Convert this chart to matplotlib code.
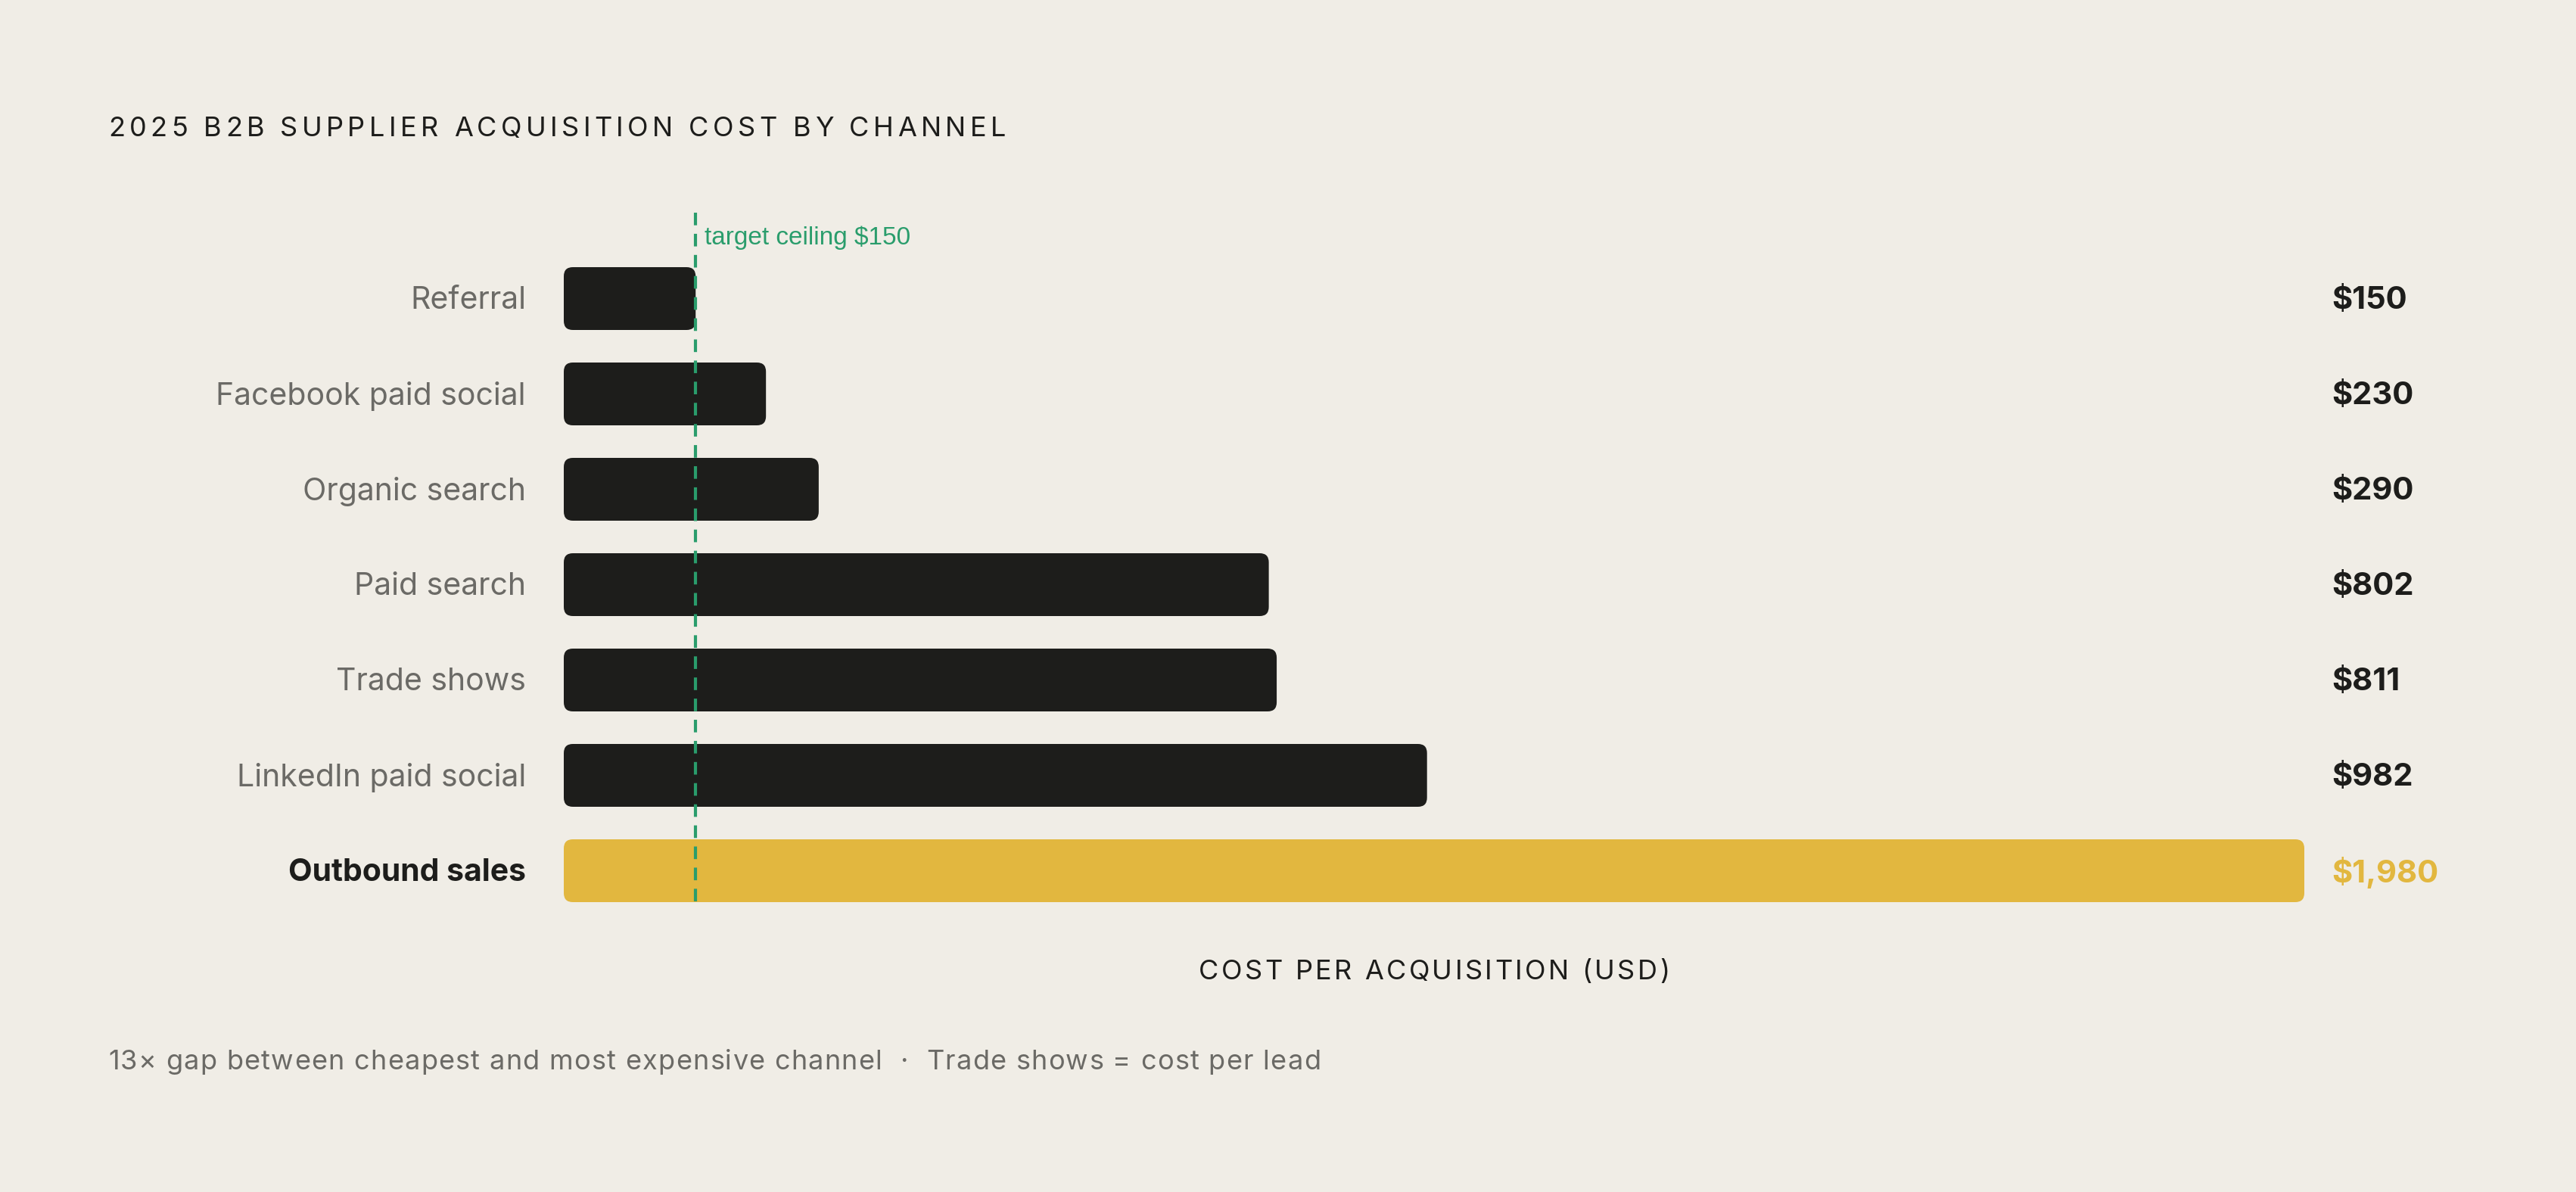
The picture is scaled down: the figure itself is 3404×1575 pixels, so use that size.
import matplotlib
matplotlib.use("Agg")
import matplotlib.pyplot as plt
from matplotlib.patches import FancyBboxPatch
from matplotlib.font_manager import FontProperties

# ---- data ----
channels = ["Referral", "Facebook paid social", "Organic search", "Paid search",
            "Trade shows", "LinkedIn paid social", "Outbound sales"]
costs = [150, 230, 290, 802, 811, 982, 1980]
value_labels = ["$150", "$230", "$290", "$802", "$811", "$982", "$1,980"]
highlight = "Outbound sales"
target = 150
target_label = "target ceiling $150"
title = "2025 B2B SUPPLIER ACQUISITION COST BY CHANNEL"
xlabel = "COST PER ACQUISITION (USD)"
footnote = "13\u00d7 gap between cheapest and most expensive channel  \u00b7  Trade shows = cost per lead"

# ---- style ----
BG = "#f0ede6"
DARK = "#1d1d1b"
GOLD = "#e2b73f"
GREEN = "#2a9d6c"
GREY = "#6b6a66"
FONT = "Inter"

W, H, DPI = 3405, 1575, 100
fig = plt.figure(figsize=(W / DPI, H / DPI), dpi=DPI, facecolor=BG)

# axes placement in pixel space
x0_px, x1_px = 745, 3045
row0_px, spacing_px = 394.5, 126
ytop_lim, ybot_lim = -1.0, 6.5
ax_top_px = row0_px + ytop_lim * spacing_px
ax_bot_px = row0_px + ybot_lim * spacing_px
ax = fig.add_axes([x0_px / W, 1 - ax_bot_px / H, (x1_px - x0_px) / W,
                   (ax_bot_px - ax_top_px) / H])
ax.set_facecolor(BG)
ax.set_xlim(0, max(costs))
ax.set_ylim(ybot_lim, ytop_lim)
ax.axis("off")

bar_h = 83 / spacing_px
ypos = list(range(len(channels)))
bars = ax.barh(ypos, costs, height=bar_h, color=DARK)

px_per_x = (x1_px - x0_px) / max(costs)
r_px = 12
for b, ch in zip(bars, channels):
    x, y, w, h = b.get_x(), b.get_y(), b.get_width(), b.get_height()
    b.set_visible(False)
    fc = GOLD if ch == highlight else DARK
    rx = r_px / px_per_x
    ry = r_px / spacing_px
    p = FancyBboxPatch((x, y), w, h,
                       boxstyle=f"round,pad=0,rounding_size={rx}",
                       mutation_aspect=ry / rx,
                       facecolor=fc, edgecolor="none", zorder=2)
    ax.add_patch(p)

# target line
line_top = (281 - row0_px) / spacing_px
line_bot = len(channels) - 1 + bar_h / 2
ax.plot([target, target], [line_top, line_bot], color=GREEN, lw=3.0,
        dashes=(4.0, 2.7), zorder=3, clip_on=False, solid_capstyle="butt",
        dash_capstyle="butt")
ax.text(target + 10, (314 - row0_px) / spacing_px, target_label, color=GREEN,
        fontsize=24, family="Liberation Sans", va="center", ha="left")

# category labels and values
dy = 3 / spacing_px
for i, (ch, v, lab) in enumerate(zip(channels, costs, value_labels)):
    hl = ch == highlight
    ax.text(-(745 - 695) / px_per_x, i + dy, ch, ha="right", va="center",
            fontsize=29.5, family=FONT, color=DARK if hl else GREY,
            fontweight="bold" if hl else "normal")
    ax.text((3081 - x0_px) / px_per_x, i + dy, lab, ha="left", va="center",
            fontsize=30, family=FONT, fontweight="bold",
            color=GOLD if hl else DARK)

# tracked text helper
renderer = fig.canvas.get_renderer()


def tracked(x_px, y_px, s, size, track_em, color, ha="left", weight="normal"):
    fp = FontProperties(family=FONT, size=size, weight=weight)
    ref_w = renderer.get_text_width_height_descent("x", fp, ismath=False)[0]
    em_px = size * DPI / 72
    tr = track_em * em_px
    adv = []
    for i in range(len(s)):
        wpre = renderer.get_text_width_height_descent(s[:i] + "x", fp, ismath=False)[0] - ref_w
        adv.append(wpre)
    total = renderer.get_text_width_height_descent(s, fp, ismath=False)[0] + tr * (len(s) - 1)
    if ha == "center":
        start = x_px - total / 2
    else:
        start = x_px
    for i, ch in enumerate(s):
        if ch == " ":
            continue
        fig.text((start + adv[i] + i * tr) / W, 1 - y_px / H, ch, fontproperties=fp,
                 color=color, ha="left", va="baseline")


tracked(143, 180, title, 26, 0.15, DARK)
tracked((x0_px + x1_px) / 2, 1294, xlabel, 26, 0.095, DARK, ha="center")
tracked(143, 1413, footnote, 26, 0.035, GREY)

fig.savefig("out.png", dpi=DPI, facecolor=BG)
